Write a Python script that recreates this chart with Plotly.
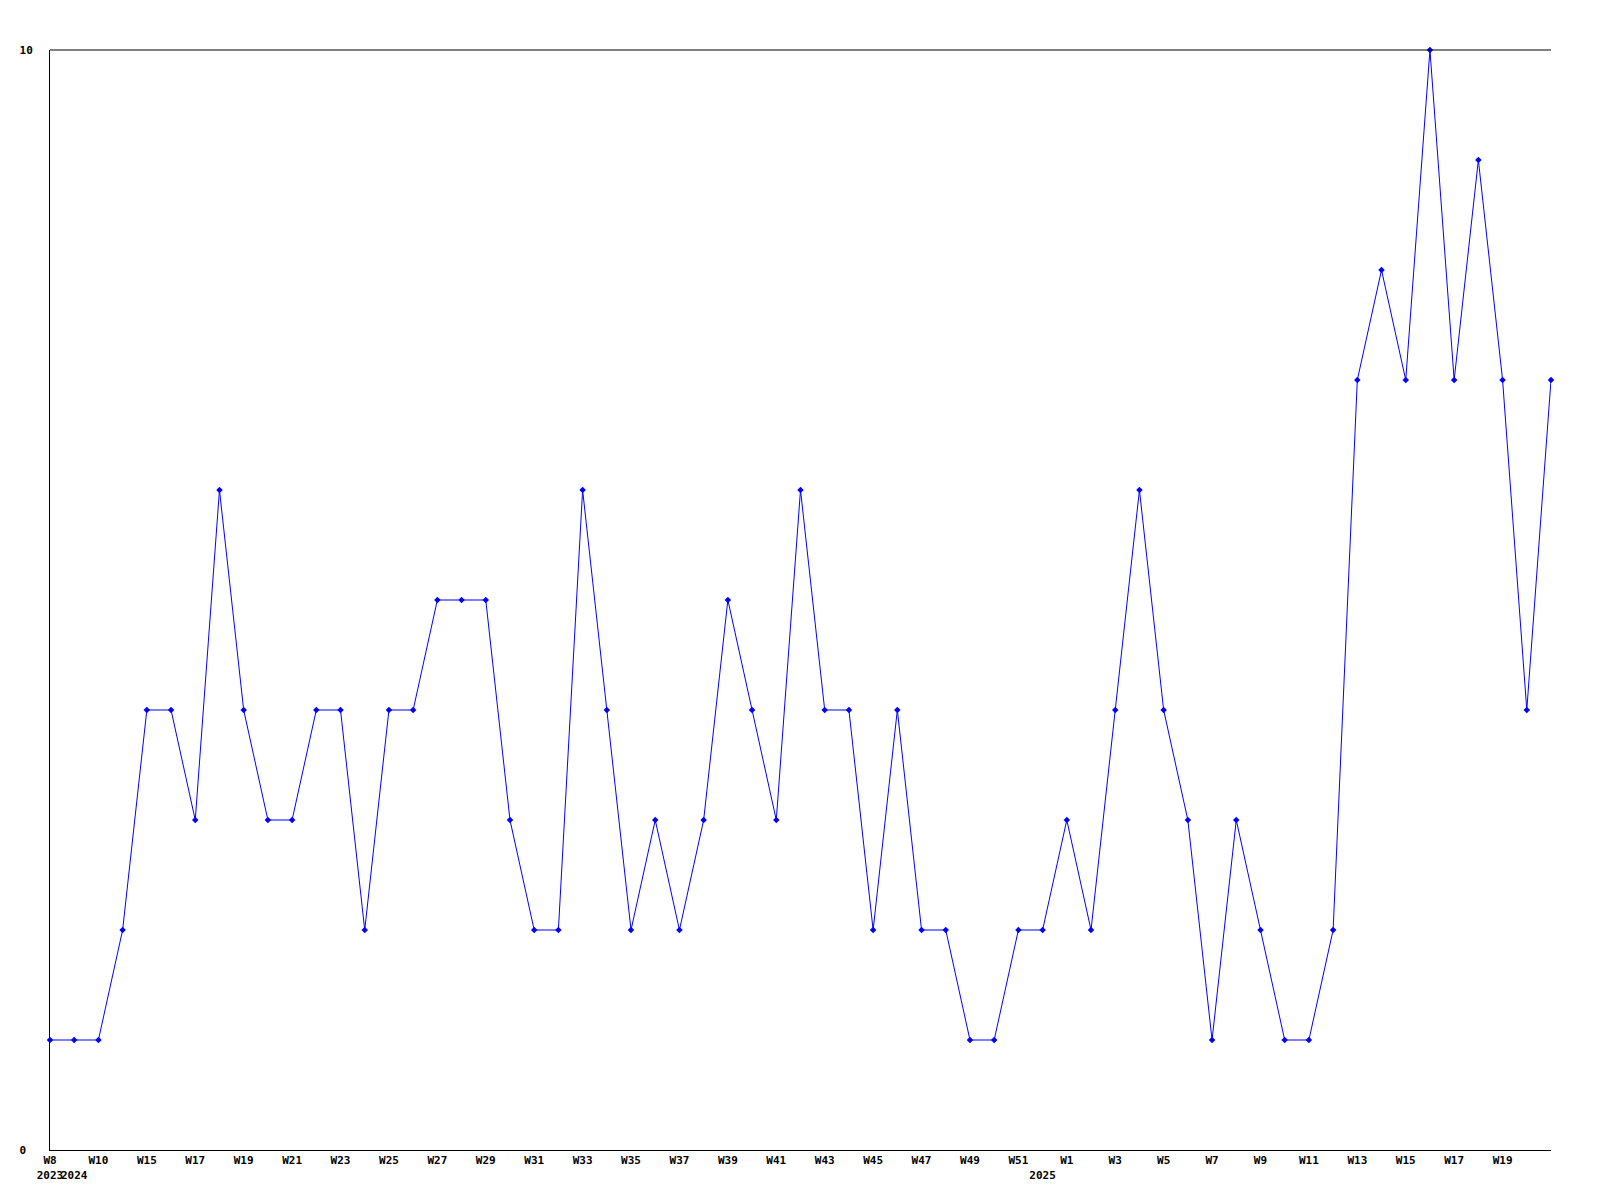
import plotly.graph_objects as go

# Category ids (one per weekly point)
weeks = (["2023-W08", "2024-W09", "2024-W10", "2024-W13"]
         + ["2024-W%02d" % w for w in range(15, 53)]
         + ["2025-W%02d" % w for w in range(1, 22)])

values = [1, 1, 1, 2, 4, 4, 3, 6, 4, 3,
          3, 4, 4, 2, 4, 4, 5, 5, 5, 3,
          2, 2, 6, 4, 2, 3, 2, 3, 5, 4,
          3, 6, 4, 4, 2, 4, 2, 2, 1, 1,
          2, 2, 3, 2, 4, 6, 4, 3, 1, 3,
          2, 1, 1, 2, 7, 8, 7, 10, 7, 9,
          7, 4, 7]

# Displayed week label for each point ("" = none)
week_labels = ["W8", "", "W10", "", "W15", "", "W17", "", "W19", "",
               "W21", "", "W23", "", "W25", "", "W27", "", "W29", "",
               "W31", "", "W33", "", "W35", "", "W37", "", "W39", "",
               "W41", "", "W43", "", "W45", "", "W47", "", "W49", "",
               "W51", "", "W1", "", "W3", "", "W5", "", "W7", "",
               "W9", "", "W11", "", "W13", "", "W15", "", "W17", "",
               "W19", "", ""]

# Displayed year label for each point ("" = none)
year_labels = ["2023", "2024"] + [""] * 39 + ["2025"] + [""] * 21

y_tick_vals = [0, 10]
y_tick_text = ["0\u00a0", "10"]

tickvals, ticktext = [], []
for cat, wl, yl in zip(weeks, week_labels, year_labels):
    if wl or yl:
        tickvals.append(cat)
        ticktext.append(wl + "<br>" + yl if yl else wl)

font = dict(family="DejaVu Sans Mono", size=11, color="black", weight="bold")

fig = go.Figure()
fig.add_trace(go.Scatter(
    x=weeks, y=values, mode="lines+markers",
    line=dict(color="#0000ff", width=1),
    marker=dict(symbol="diamond", size=5, color="#0000ff"),
    showlegend=False, cliponaxis=False,
))

fig.update_layout(
    width=1600, height=1200,
    margin=dict(l=50, r=49, t=50, b=50),
    plot_bgcolor="white", paper_bgcolor="white",
    font=font,
)
fig.update_xaxes(
    type="category", range=[0, len(weeks) - 1],
    tickmode="array", tickvals=tickvals, ticktext=ticktext,
    tickangle=0, tickfont=font, ticks="",
    showgrid=False, zeroline=False,
    showline=True, linecolor="black", linewidth=1,
)
fig.update_yaxes(
    range=[0, 10], tickmode="array", tickvals=y_tick_vals, ticktext=y_tick_text,
    tickfont=font, ticks="", ticklabelstandoff=14,
    showgrid=False, zeroline=False,
    showline=True, linecolor="black", linewidth=1,
)
# top border line of the plot area
fig.add_shape(type="line", xref="paper", yref="paper", x0=0, x1=1, y0=1, y1=1,
              line=dict(color="black", width=1))

fig.write_html("out.html", config={"displayModeBar": False},
               post_script="document.body.style.margin='0';")
